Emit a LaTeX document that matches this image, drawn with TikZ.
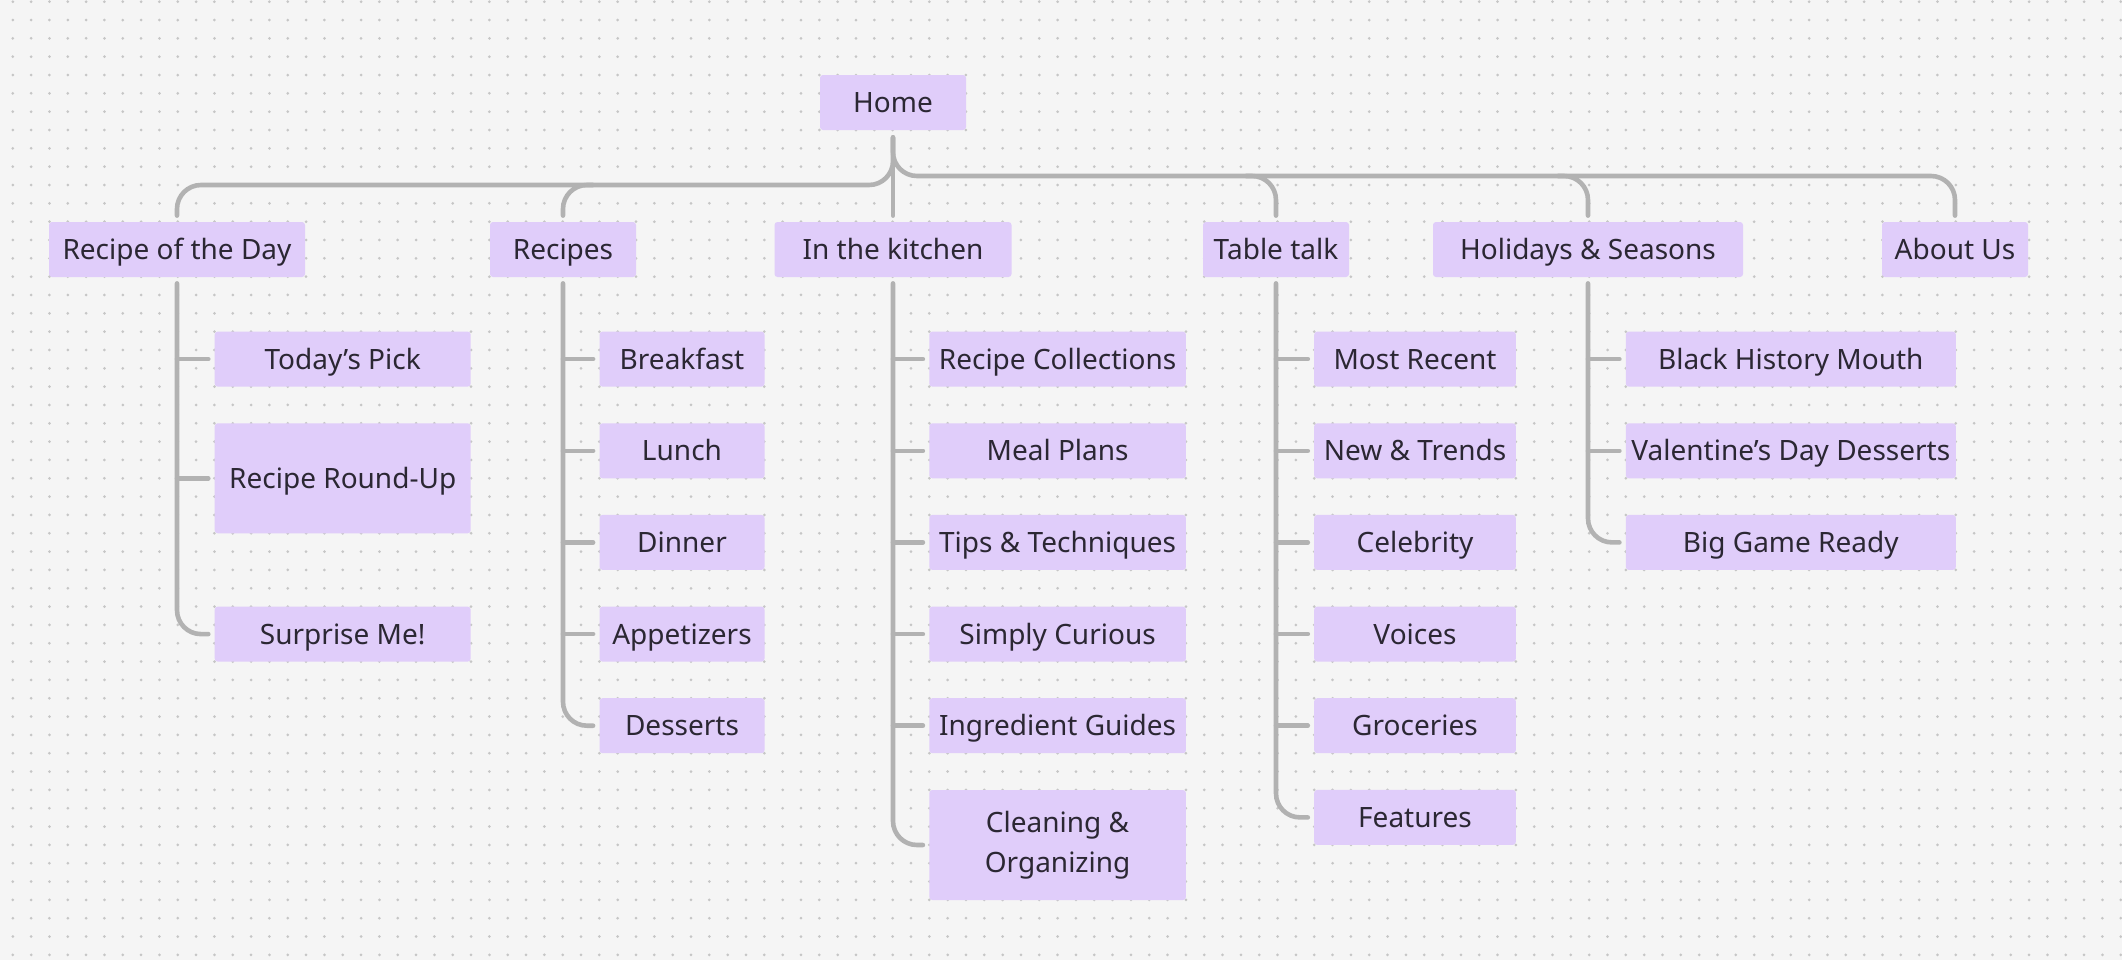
\documentclass[tikz,border=0pt]{standalone}
\usepackage{fontspec}
\setmainfont{Noto Sans}
\definecolor{bgc}{HTML}{F5F5F5}
\definecolor{dotc}{HTML}{C6C6C6}
\definecolor{boxc}{HTML}{E0CDFA}
\definecolor{txtc}{HTML}{2B2733}
\definecolor{linec}{HTML}{B2B2B2}
\begin{document}
\begin{tikzpicture}[x=0.5pt,y=-0.5pt,
	box/.style={fill=boxc, rounded corners=1.5pt, text=txtc, font=\fontsize{14}{20}\selectfont, minimum height=27.5pt, inner sep=0pt, text height=10pt, text depth=0pt, align=center},
	conn/.style={draw=linec, line width=2.3pt, line cap=round, rounded corners=12pt}]
	\useasboundingbox (0,0) rectangle (2122,960);
	\fill[bgc] (0,0) rectangle (2122,960);
	\foreach \i in {0,...,115}
		\foreach \j in {0,...,52}
			\fill[dotc] (12.8+18.33*\i,1.7+18.33*\j) circle (0.75pt);

	\node[box, minimum width=73pt] (home) at (893,102.5) {Home};

	\node[box, minimum width=128pt] (rotd) at (177,249.5) {Recipe of the Day};
	\node[box, minimum width=73pt] (recipes) at (563,249.5) {Recipes};
	\node[box, minimum width=118.5pt] (kitchen) at (893,249.5) {In the kitchen};
	\node[box, minimum width=73pt] (table) at (1276,249.5) {Table talk};
	\node[box, minimum width=155pt] (holidays) at (1588,249.5) {Holidays \& Seasons};
	\node[box, minimum width=73pt] (about) at (1955,249.5) {About Us};

	\node[box, minimum width=128pt] (pick) at (342.7,359.1) {Today’s Pick};
	\node[box, minimum width=128pt, minimum height=55pt] (roundup) at (342.7,478.3) {Recipe Round-Up};
	\node[box, minimum width=128pt] (surprise) at (342.7,634.1) {Surprise Me!};

	\node[box, minimum width=82.5pt] (breakfast) at (682,359.1) {Breakfast};
	\node[box, minimum width=82.5pt] (lunch) at (682,450.8) {Lunch};
	\node[box, minimum width=82.5pt] (dinner) at (682,542.4) {Dinner};
	\node[box, minimum width=82.5pt] (appetizers) at (682,634.1) {Appetizers};
	\node[box, minimum width=82.5pt] (desserts) at (682,725.7) {Desserts};

	\node[box, minimum width=128.3pt] (collections) at (1057.6,359.1) {Recipe Collections};
	\node[box, minimum width=128.3pt] (mealplans) at (1057.6,450.8) {Meal Plans};
	\node[box, minimum width=128.3pt] (tips) at (1057.6,542.4) {Tips \& Techniques};
	\node[box, minimum width=128.3pt] (curious) at (1057.6,634.1) {Simply Curious};
	\node[box, minimum width=128.3pt] (guides) at (1057.6,725.7) {Ingredient Guides};
	\node[box, minimum width=128.3pt, minimum height=55pt, text height=, text depth=] (cleaning) at (1057.6,845) {Cleaning \&\\Organizing};

	\node[box, minimum width=100.8pt] (recent) at (1415,359.1) {Most Recent};
	\node[box, minimum width=100.8pt] (trends) at (1415,450.8) {New \& Trends};
	\node[box, minimum width=100.8pt] (celebrity) at (1415,542.4) {Celebrity};
	\node[box, minimum width=100.8pt] (voices) at (1415,634.1) {Voices};
	\node[box, minimum width=100.8pt] (groceries) at (1415,725.7) {Groceries};
	\node[box, minimum width=100.8pt] (features) at (1415,817.4) {Features};

	\node[box, minimum width=165pt] (history) at (1790.8,359.1) {Black History Mouth};
	\node[box, minimum width=165pt] (valentine) at (1790.8,450.8) {Valentine’s Day Desserts};
	\node[box, minimum width=165pt] (biggame) at (1790.8,542.4) {Big Game Ready};

	\coordinate (lbus) at (0,185);
	\coordinate (rbus) at (0,176);

	\draw[conn] ([yshift=-3.5pt]home.south) -- ([yshift=3pt]kitchen.north);
	\draw[conn] ([yshift=-3.5pt]home.south) |- (rotd.north |- lbus) -- ([yshift=3pt]rotd.north);
	\draw[conn] ([xshift=15pt]recipes.north |- lbus) -| ([yshift=3pt]recipes.north);
	\draw[conn] ([yshift=-3.5pt]home.south) |- (about.north |- rbus) -- ([yshift=3pt]about.north);
	\draw[conn] ([xshift=-15pt]table.north |- rbus) -| ([yshift=3pt]table.north);
	\draw[conn] ([xshift=-15pt]holidays.north |- rbus) -| ([yshift=3pt]holidays.north);

	\draw[conn] ([yshift=-3pt]rotd.south) |- ([xshift=-3pt]surprise.west);
	\foreach \c in {pick,roundup}
		\draw[conn] (rotd.south |- \c.west) -- ([xshift=-3pt]\c.west);

	\draw[conn] ([yshift=-3pt]recipes.south) |- ([xshift=-3pt]desserts.west);
	\foreach \c in {breakfast,lunch,dinner,appetizers}
		\draw[conn] (recipes.south |- \c.west) -- ([xshift=-3pt]\c.west);

	\draw[conn] ([yshift=-3pt]kitchen.south) |- ([xshift=-3pt]cleaning.west);
	\foreach \c in {collections,mealplans,tips,curious,guides}
		\draw[conn] (kitchen.south |- \c.west) -- ([xshift=-3pt]\c.west);

	\draw[conn] ([yshift=-3pt]table.south) |- ([xshift=-3pt]features.west);
	\foreach \c in {recent,trends,celebrity,voices,groceries}
		\draw[conn] (table.south |- \c.west) -- ([xshift=-3pt]\c.west);

	\draw[conn] ([yshift=-3pt]holidays.south) |- ([xshift=-3pt]biggame.west);
	\foreach \c in {history,valentine}
		\draw[conn] (holidays.south |- \c.west) -- ([xshift=-3pt]\c.west);
\end{tikzpicture}
\end{document}
